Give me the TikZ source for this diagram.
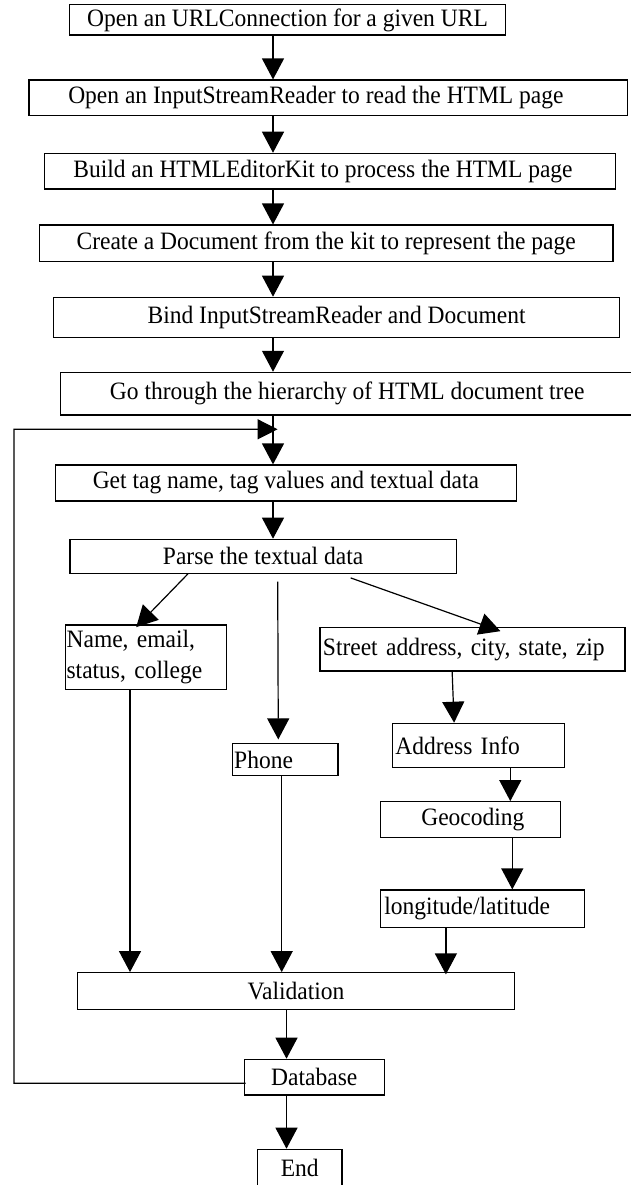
\documentclass[tikz,border=0pt]{standalone}
\usepackage{fontspec}
\setmainfont{Liberation Serif}[FakeStretch=0.94]
\usetikzlibrary{arrows.meta,calc}
\newcommand\fs{\fontsize{25}{31}\selectfont}
\begin{document}
\begin{tikzpicture}[x=1pt,y=-1pt,
  box/.style={draw, line width=1.2pt, inner sep=0pt, font=\fs},
  lbox/.style={box, align=left},
  arr/.style={line width=1.2pt, -{Triangle[length=21pt,width=22pt]}},
  larr/.style={line width=1.2pt, -{Triangle[length=20pt,width=20pt]}}]
\useasboundingbox (0,0) rectangle (631,1185);
\fill[white] (0,0) rectangle (631,1185);
\clip (0,0) rectangle (631,1185);

% main chain
\node[box, minimum width=436.6pt, minimum height=30.3pt] (b1) at (287.5,19.9) {Open an URLConnection for a given URL};
\node[box, minimum width=598.8pt, minimum height=35.7pt] (b2) at (328.4,97.9) {Open an InputStreamReader to read the HTML page\kern25pt};
\node[box, minimum width=571.4pt, minimum height=35.7pt] (b3) at (330,171.2) {Build an HTMLEditorKit to process the HTML page\kern14pt};
\node[box, minimum width=573.5pt, minimum height=36.7pt] (b4) at (326.2,243.4) {Create a Document from the kit to represent the page};
\node[box, minimum width=566.2pt, minimum height=40pt] (b5) at (336.6,317.3) {Bind InputStreamReader and Document};
\node[box, minimum width=573.6pt, minimum height=42.7pt] (b6) at (347.2,393.7) {Go through the hierarchy of HTML document tree};
\node[box, minimum width=460.8pt, minimum height=36pt] (b7) at (285.9,483) {Get tag name, tag values and textual data};
\node[box, minimum width=386.3pt, minimum height=34pt] (b8) at (263.1,556.3) {Parse the textual data};

% branches
\node[lbox, text width=160.6pt, minimum height=64.3pt] (nm) at (145.9,657.2) {\hspace*{1pt}Name, email,\\\hspace*{1pt}status, college};
\node[lbox, text width=305.1pt, minimum height=43.3pt] (st) at (472.5,649.4) {\hspace*{3pt}Street address, city, state, zip};
\node[lbox, text width=105.8pt, minimum height=32.4pt] (ph) at (285.1,759.5) {\hspace*{2pt}Phone};
\node[lbox, text width=171.8pt, minimum height=44.4pt] (ad) at (478.3,745.5) {\hspace*{3pt}Address Info};
\node[lbox, text width=179.9pt, minimum height=35.6pt] (geo) at (470.25,819.5) {\hspace*{41pt}Geocoding};
\node[lbox, text width=204pt, minimum height=37.7pt] (lon) at (482.3,908.85) {\hspace*{4pt}longitude/latitude};

% bottom
\node[box, minimum width=436.6pt, minimum height=36.6pt] (val) at (296,991) {Validation};
\node[box, minimum width=140pt, minimum height=35.7pt] (db) at (314.3,1077.15) {Database};
\node[box, minimum width=84.5pt, minimum height=38pt] (end) at (299.75,1168.3) {End};

% x positions of connectors
\coordinate (xs) at (273,0);
\coordinate (xv) at (286.5,0);
\coordinate (xn1) at (187.9,0);
\coordinate (xN) at (130,0);
\coordinate (xP) at (281.7,0);
\coordinate (xA) at (510.3,0);
\coordinate (xG) at (512.3,0);
\coordinate (xL) at (445.9,0);
\coordinate (ph0) at (277.7,581.7);
\coordinate (lb) at (14,1083.3);
\coordinate (lt) at (14,429.3);
\coordinate (le) at (277.6,429.3);

\draw[arr] (xs |- b1.south) -- (xs |- b2.north);
\draw[arr] (xs |- b2.south) -- (xs |- b3.north);
\draw[arr] (xs |- b3.south) -- (xs |- b4.north);
\draw[arr] (xs |- b4.south) -- (xs |- b5.north);
\draw[arr] (xs |- b5.south) -- (xs |- b6.north);
\draw[arr] (xs |- b6.south) -- (xs |- b7.north);
\draw[arr] (xs |- b7.south) -- (xs |- b8.north);

\draw[arr] (xn1 |- b8.south) -- ([shift={(71.2,2.7)}]nm.north west);
\draw[arr] (ph0) -- ([shift={(46.7,-3.3)}]ph.north west);
\draw[arr] ([shift={(281.3,4)}]b8.south west) -- ([shift={(181.1,4)}]st.north west);

\draw[arr] (xN |- nm.south) -- (xN |- val.north);
\draw[arr] (xP |- ph.south) -- (xP |- val.north);
\draw[arr] ([xshift=132.8pt]st.south west) -- ([xshift=62.3pt]ad.north west);
\draw[arr] (xA |- ad.south) -- (xA |- geo.north);
\draw[arr] (xG |- geo.south) -- (xG |- lon.north);
\draw[arr] (xL |- lon.south) -- ($(xL |- val.north)+(0,2.3)$);

\draw[arr] (xv |- val.south) -- (xv |- db.north);
\draw[arr] (xv |- db.south) -- (xv |- end.north);

\draw[larr] ([shift={(2,6.1)}]db.west) -- (lb) -- (lt) -- (le);
\end{tikzpicture}
\end{document}
